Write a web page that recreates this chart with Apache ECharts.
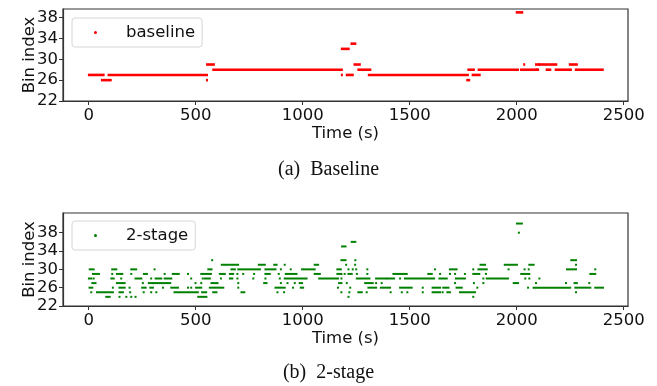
<!DOCTYPE html>
<html>
<head>
<meta charset="utf-8">
<script src="https://cdn.jsdelivr.net/npm/echarts@6/dist/echarts.min.js"></script>
<style>
  html, body { margin: 0; padding: 0; background: #fff; }
  #chart { width: 657px; height: 386px; }
</style>
</head>
<body>
<div id="chart"></div>
<script>
// each run is [start time (s), end time (s), bin index]; start == end is a single sample
const baselineRuns = [
  [1, 70, 27], [62, 103, 26], [93, 553, 27], [553, 553, 26], [553, 585, 29],
  [582, 1183, 28], [1183, 1183, 27], [1183, 1215, 32], [1206, 1234, 27], [1228, 1246, 33],
  [1242, 1267, 29], [1260, 1316, 28], [1309, 1772, 27], [1769, 1778, 26], [1774, 1800, 28],
  [1794, 1827, 27], [1822, 2006, 28], [2000, 2026, 39], [2020, 2094, 28], [2035, 2035, 29],
  [2090, 2104, 29], [2094, 2100, 28], [2107, 2144, 29], [2140, 2157, 28], [2152, 2185, 29],
  [2182, 2253, 28], [2248, 2281, 29], [2276, 2402, 28]
]

const twoStageRuns = [
  // bin 24
  [82, 98, 24], [144, 144, 24], [176, 176, 24], [199, 199, 24], [219, 219, 24],
  [512, 550, 24], [1214, 1214, 24], [1797, 1797, 24],
  // bin 25
  [12, 12, 25], [39, 113, 25], [144, 160, 25], [194, 194, 25], [257, 257, 25], [292, 292, 25],
  [316, 316, 25], [401, 510, 25], [530, 549, 25], [582, 597, 25], [714, 727, 25], [882, 882, 25],
  [913, 913, 25], [1181, 1181, 25], [1218, 1218, 25], [1260, 1276, 25], [1299, 1299, 25],
  [1411, 1411, 25], [1463, 1463, 25], [1489, 1489, 25], [1561, 1561, 25], [1607, 1642, 25],
  [1654, 1654, 25], [1676, 1688, 25], [1735, 1805, 25], [2277, 2277, 25],
  // bin 26
  [4, 17, 26], [113, 113, 26], [144, 168, 26], [191, 191, 26], [250, 266, 26], [288, 300, 26],
  [347, 347, 26], [386, 417, 26], [464, 464, 26], [479, 479, 26], [502, 526, 26], [566, 629, 26],
  [699, 699, 26], [873, 916, 26], [955, 955, 26], [991, 1002, 26], [1165, 1165, 26],
  [1222, 1222, 26], [1307, 1343, 26], [1365, 1408, 26], [1455, 1509, 26], [1561, 1561, 26],
  [1607, 1642, 26], [1657, 1681, 26], [1719, 1743, 26], [1816, 1816, 26], [2053, 2053, 26],
  [2079, 2242, 26], [2250, 2250, 26], [2274, 2344, 26], [2367, 2403, 26],
  // bin 27
  [17, 32, 27], [132, 168, 27], [253, 253, 27], [281, 300, 27], [303, 381, 27], [499, 499, 27],
  [526, 526, 27], [574, 602, 27], [699, 699, 27], [820, 831, 27], [898, 898, 27], [929, 929, 27],
  [963, 963, 27], [986, 997, 27], [1170, 1181, 27], [1206, 1206, 27], [1292, 1327, 27],
  [1343, 1343, 27], [1369, 1369, 27], [1712, 1712, 27], [1800, 1800, 27], [1844, 1844, 27],
  [1986, 2006, 27], [2090, 2090, 27], [2230, 2230, 27], [2270, 2281, 27], [2339, 2339, 27],
  // bin 28
  [1, 12, 28], [23, 23, 28], [106, 117, 28], [152, 152, 28], [219, 246, 28], [292, 292, 28],
  [313, 339, 28], [355, 386, 28], [479, 479, 28], [533, 533, 28], [543, 566, 28], [618, 618, 28],
  [660, 671, 28], [695, 695, 28], [769, 769, 28], [826, 826, 28], [893, 893, 28], [916, 1010, 28],
  [1018, 1018, 28], [1077, 1165, 28], [1181, 1181, 28], [1253, 1312, 28], [1343, 1390, 28],
  [1396, 1427, 28], [1455, 1455, 28], [1478, 1614, 28], [1639, 1673, 28], [1716, 1758, 28],
  [1844, 1844, 28], [1860, 1959, 28], [2040, 2040, 28], [2059, 2059, 28], [2106, 2106, 28],
  // bin 29
  [20, 48, 29], [110, 110, 29], [132, 157, 29], [199, 199, 29], [258, 272, 29], [355, 355, 29],
  [393, 421, 29], [464, 464, 29], [526, 571, 29], [613, 636, 29], [660, 675, 29], [695, 695, 29],
  [722, 722, 29], [773, 773, 29], [826, 846, 29], [888, 888, 29], [921, 971, 29], [1056, 1080, 29],
  [1162, 1181, 29], [1196, 1196, 29], [1214, 1229, 29], [1253, 1253, 29], [1302, 1302, 29],
  [1424, 1486, 29], [1587, 1603, 29], [1642, 1642, 29], [1688, 1688, 29], [1712, 1712, 29],
  [1758, 1758, 29], [1797, 1825, 29], [1856, 1856, 29], [2021, 2059, 29], [2344, 2367, 29],
  // bin 30
  [5, 23, 30], [110, 129, 30], [199, 222, 30], [308, 308, 30], [559, 574, 30], [667, 683, 30],
  [699, 800, 30], [826, 873, 30], [898, 898, 30], [944, 944, 30], [997, 1056, 30],
  [1162, 1178, 30], [1214, 1214, 30], [1234, 1234, 30], [1250, 1250, 30], [1302, 1302, 30],
  [1618, 1618, 30], [1688, 1719, 30], [1797, 1797, 30], [1821, 1860, 30], [1962, 1962, 30],
  [2037, 2037, 30], [2056, 2056, 30], [2235, 2277, 30], [2367, 2367, 30],
  // bin 31
  [622, 698, 31], [795, 823, 31], [867, 878, 31], [916, 916, 31], [1056, 1072, 31],
  [1203, 1203, 31], [1245, 1245, 31], [1831, 1852, 31], [1944, 2001, 31], [2059, 2079, 31],
  [2277, 2277, 31],
  // higher bins
  [577, 577, 32], [1181, 1200, 32], [1246, 1246, 32], [2255, 2277, 32],
  [1184, 1200, 35], [1229, 1246, 36], [2010, 2010, 38], [2001, 2024, 40]
]

const timeTicks = [0, 500, 1000, 1500, 2000, 2500]
const binTicks = [22, 26, 30, 34, 38]

const chart = echarts.init(document.getElementById('chart'), null, { renderer: 'canvas' })

function runRenderer(thickness) {
    return function (params, api) {
        const a = api.coord([api.value(0), api.value(2)])
        const b = api.coord([api.value(1), api.value(2)])
        return {
            type: 'rect',
            shape: { x: a[0] - 1, y: a[1] - thickness / 2, width: b[0] - a[0] + 2, height: thickness },
            style: { fill: api.visual('color') },
        }
    }
}

const textColor = '#111'
const frameColor = '#333'
const fontSize = 16.5

function xAxisFor(gridIndex) {
    return {
        type: 'value',
        gridIndex,
        min: -120,
        max: 2520,
        name: 'Time (s)',
        nameLocation: 'middle',
        nameGap: 21,
        nameTextStyle: { fontFamily: 'DejaVu Sans', fontSize, color: textColor },
        axisLine: { onZero: false, lineStyle: { color: frameColor, width: 1.2 } },
        axisTick: { customValues: timeTicks, length: 4, lineStyle: { color: frameColor } },
        axisLabel: {
            customValues: timeTicks,
            formatter: (v) => String(v),
            margin: 6,
            fontFamily: 'DejaVu Sans',
            fontSize,
            color: textColor,
        },
        splitLine: { show: false },
    }
}

function yAxisFor(gridIndex, max) {
    return {
        type: 'value',
        gridIndex,
        min: 22,
        max,
        name: 'Bin index',
        nameLocation: 'middle',
        nameGap: 25,
        nameMoveOverlap: false,
        nameTextStyle: { fontFamily: 'DejaVu Sans', fontSize, color: textColor },
        axisLine: { show: true, onZero: false, lineStyle: { color: frameColor, width: 1.2 } },
        axisTick: { show: true, customValues: binTicks, length: 4, lineStyle: { color: frameColor } },
        axisLabel: {
            customValues: binTicks,
            formatter: (v) => String(v),
            margin: 5,
            fontFamily: 'DejaVu Sans',
            fontSize,
            color: textColor,
        },
        splitLine: { show: false },
    }
}

function legendFor(name, top) {
    return {
        data: [name],
        left: 72,
        top,
        orient: 'vertical',
        icon: 'circle',
        itemWidth: 3,
        itemHeight: 3,
        padding: [6, 7, 6, 22],
        backgroundColor: '#fff',
        borderColor: '#d6d6d6',
        borderWidth: 1,
        borderRadius: 3,
        textStyle: {
            fontFamily: 'DejaVu Sans',
            fontSize,
            color: textColor,
            padding: [0, 0, 0, 24],
        },
        selectedMode: false,
    }
}

const option = {
    animation: false,
    grid: [
        { left: 63, right: 29, top: 9, height: 92, show: true, borderColor: frameColor, borderWidth: 1.2 },
        { left: 63, right: 29, top: 213, height: 93, show: true, borderColor: frameColor, borderWidth: 1.2 },
    ],
    xAxis: [xAxisFor(0), xAxisFor(1)],
    yAxis: [yAxisFor(0, 39.65), yAxisFor(1, 42.3)],
    legend: [legendFor('baseline', 18), legendFor('2-stage', 221)],
    series: [
        {
            name: 'baseline',
            type: 'custom',
            xAxisIndex: 0,
            yAxisIndex: 0,
            itemStyle: { color: '#ff0000' },
            renderItem: runRenderer(2.6),
            encode: { x: [0, 1], y: 2 },
            data: baselineRuns,
        },
        {
            name: '2-stage',
            type: 'custom',
            xAxisIndex: 1,
            yAxisIndex: 1,
            itemStyle: { color: '#008000' },
            renderItem: runRenderer(2),
            encode: { x: [0, 1], y: 2 },
            data: twoStageRuns,
        },
    ],
    graphic: [
        {
            type: 'text',
            left: 'center',
            top: 160,
            style: { text: '(a)  Baseline', font: '20px "Liberation Serif"', fill: '#111' },
        },
        {
            type: 'text',
            left: 'center',
            top: 363,
            style: { text: '(b)  2-stage', font: '20px "Liberation Serif"', fill: '#111' },
        },
    ],
}

chart.setOption(option)
</script>
</body>
</html>
